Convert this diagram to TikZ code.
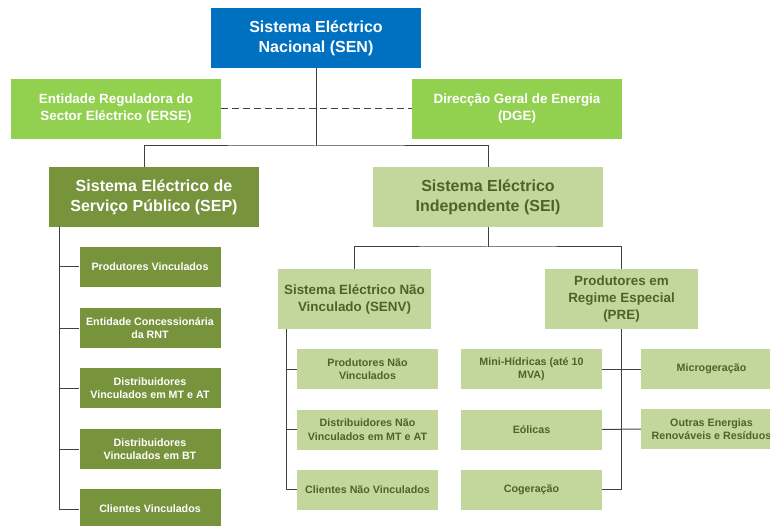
\documentclass[tikz,border=0pt]{standalone}
\usepackage{fontspec}
\setmainfont{Liberation Sans}
\definecolor{senblue}{HTML}{0070C0}
\definecolor{lightgreen}{HTML}{92D050}
\definecolor{olive}{HTML}{77933C}
\definecolor{palegreen}{HTML}{C3D69B}
\definecolor{darkolive}{HTML}{4F6228}
\definecolor{linegray}{HTML}{404040}
\tikzset{
  box/.style={rectangle,inner sep=0pt,align=center,font=\bfseries},
  big/.style={box,minimum width=210pt,minimum height=60pt,font=\bfseries\fontsize{16}{20}\selectfont},
  mid/.style={box,minimum width=210pt,minimum height=60pt,font=\bfseries\fontsize{13.4}{17}\selectfont},
  small/.style={box,minimum width=141pt,minimum height=40pt,font=\bfseries\fontsize{10.7}{13.5}\selectfont},
  white/.style={text=white},
  pale/.style={fill=palegreen,text=darkolive},
  link/.style={draw=linegray,line width=1pt},
}
\begin{document}
\begin{tikzpicture}[x=1pt,y=-1pt]
  \clip (0,0) rectangle (770,526);
  \node[big,white,fill=senblue] (sen) at (316,38) {Sistema Eléctrico\\Nacional (SEN)};
  \node[mid,white,fill=lightgreen] (erse) at (116,109) {Entidade Reguladora do\\Sector Eléctrico (ERSE)};
  \node[mid,white,fill=lightgreen] (dge) at (517,109) {Direcção Geral de Energia\\(DGE)};
  \node[big,white,fill=olive] (sep) at (154,197) {Sistema Eléctrico de\\Serviço Público (SEP)};
  \node[big,pale,minimum width=230pt] (sei) at (488,197) {Sistema Eléctrico\\Independente (SEI)};
  \node[mid,pale,minimum width=153pt] (senv) at (354.5,299) {Sistema Eléctrico Não\\Vinculado (SENV)};
  \node[mid,pale,minimum width=153pt] (pre) at (621.5,299) {Produtores em\\Regime Especial\\(PRE)};
  % SEP
  \node[small,white,fill=olive] (pv) at (150,267) {Produtores Vinculados};
  \node[small,white,fill=olive] (ec) at (150,328) {Entidade Concessionária\\da RNT};
  \node[small,white,fill=olive] (dmt) at (150,388) {Distribuidores\\Vinculados em MT e AT};
  \node[small,white,fill=olive] (dbt) at (150,449) {Distribuidores\\Vinculados em BT};
  \node[small,white,fill=olive] (cv) at (150,509) {Clientes Vinculados};
  % SENV
  \node[small,pale] (pnv) at (367.5,369) {Produtores Não\\Vinculados};
  \node[small,pale] (dnv) at (367.5,429.5) {Distribuidores Não\\Vinculados em MT e AT};
  \node[small,pale] (cnv) at (367.5,489.5) {Clientes Não Vinculados};
  % PRE
  \node[small,pale] (mini) at (531.5,369) {Mini-Hídricas (até 10\\MVA)};
  \node[small,pale] (eol) at (531.5,429.5) {Eólicas};
  \node[small,pale] (cog) at (531.5,489.5) {Cogeração};
  \node[small,pale] (micro) at (711.5,369) {Microgeração};
  \node[small,pale] (outras) at (711.5,429) {Outras Energias\\Renováveis e Resíduos};
  % connectors
  \coordinate (split) at (316,146);
  \coordinate (split2) at (488,247);
  \draw[link,dash pattern=on 7pt off 4pt] (erse) -- (dge);
  \draw[link] (sen) -- (split);
  \draw[link] ([xshift=-10pt]sep.north) |- (split) -| (sei.north);
  \draw[link] (sei) -- (split2);
  \draw[link] (senv.north) |- (split2) -| (pre.north);
  \foreach \c in {pv,ec,dmt,dbt,cv}
    \draw[link] ([xshift=11pt]sep.south west) |- (\c.west);
  \foreach \c in {pnv,dnv,cnv}
    \draw[link] ([xshift=9pt]senv.south west) |- (\c.west);
  \draw[link] (pre.south) |- (cog.east);
  \draw[link] (mini.east) -- (micro.west);
  \draw[link] (eol.east) -- (outras.west);
\end{tikzpicture}
\end{document}
